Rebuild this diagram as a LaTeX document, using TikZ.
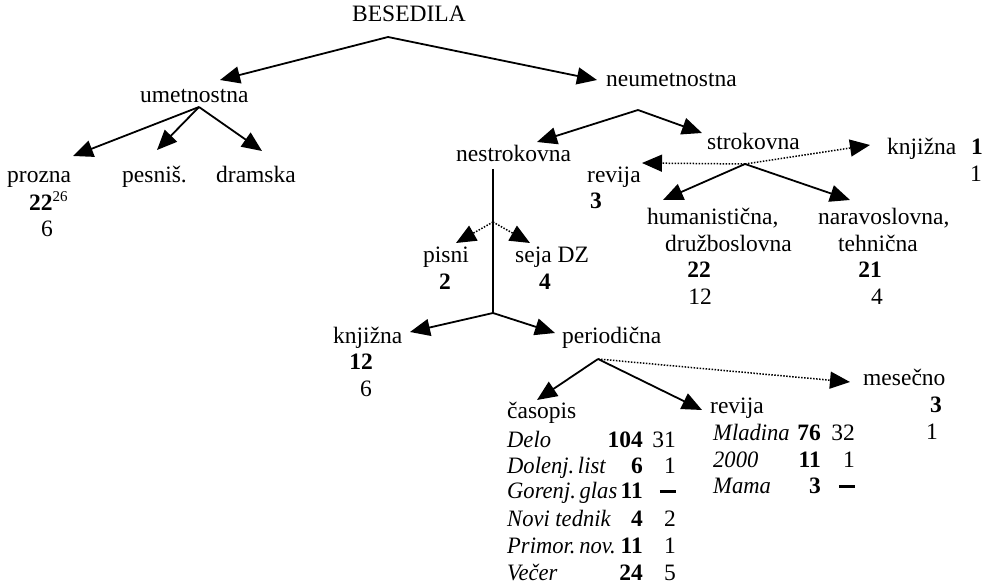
\documentclass[tikz,border=0pt]{standalone}
\usepackage{fontspec}
\setmainfont{Liberation Serif}
\usetikzlibrary{arrows.meta}
\newcommand{\nilmark}{\rule[5pt]{16pt}{2.8pt}}
\newcommand{\paper}[1]{\scalebox{0.96}[1]{\textit{#1}}}

\begin{document}
\begin{tikzpicture}[x=1pt,y=-1pt,font=\fontsize{23.5}{27}\selectfont,
    >={Triangle[length=20pt,width=17pt]},line join=miter,
    txt/.style={inner sep=0pt,anchor=base west},
    numc/.style={inner sep=0pt,anchor=base},
    nume/.style={inner sep=0pt,anchor=base east},
    tree/.style={line width=1.8pt,->},
    dots/.style={line width=1.5pt,dash pattern=on 1.5pt off 1.5pt,->}]
  \useasboundingbox (0,0) rectangle (988,585);

  % top level
  \node[txt] (besedila) at (352,22) {BESEDILA};
  \coordinate (jBes) at (388,37);
  \node[txt] (umet) at (140,103) {umetnostna};
  \node[txt] (neumet) at (606,87) {neumetnostna};
  \coordinate (tUmet) at (220,80);
  \coordinate (tNeumet) at (597,80);
  \draw[tree] (jBes) -- (tUmet);
  \draw[tree] (jBes) -- (tNeumet);

  % umetnostna
  \coordinate (jUmet) at (199,107);
  \node[txt] (prozna) at (7,183) {prozna};
  \node[txt] (pesnis) at (122,183) {pesniš.};
  \node[txt] (dramska) at (216,183) {dramska};
  \node[txt] (prozna-b) at (29,211) {\textbf{22}\raisebox{9pt}{\fontsize{15}{15}\selectfont 26}};
  \node[numc] (prozna-r) at (47,237) {6};
  \coordinate (tProzna) at (73,156);
  \coordinate (tPesnis) at (157,150);
  \coordinate (tDramska) at (262,151);
  \foreach \t in {tProzna,tPesnis,tDramska}
    \draw[tree] (jUmet) -- (\t);

  % neumetnostna
  \coordinate (jNeumet) at (638,110);
  \node[txt] (nestr) at (456,162) {nestrokovna};
  \node[txt] (strok) at (707,150) {strokovna};
  \coordinate (tNestr) at (537,142);
  \coordinate (tStrok) at (702,133);
  \draw[tree] (jNeumet) -- (tNestr);
  \draw[tree] (jNeumet) -- (tStrok);

  % strokovna
  \coordinate (jStrok) at (745,164);
  \node[txt] (revS) at (587,183) {revija};
  \node[txt] (revS-b) at (590,209) {\textbf{3}};
  \node[txt] (knjS) at (887,155) {knjižna};
  \node[nume] (knjS-b) at (983,155) {\textbf{1}};
  \node[nume] (knjS-r) at (982,182) {1};
  \coordinate (tRevS) at (642,163);
  \coordinate (tKnjS) at (870,145);
  \draw[dots] (jStrok) -- (tRevS);
  \draw[dots] (jStrok) -- (tKnjS);

  \node[txt] (hum) at (647,225) {humanistična,};
  \node[txt] (hum-2) at (665,252) {družboslovna};
  \node[numc] (hum-b) at (699,278) {\textbf{22}};
  \node[numc] (hum-r) at (700,305) {12};
  \node[txt] (nar) at (818,225) {naravoslovna,};
  \node[txt] (nar-2) at (838,252) {tehnična};
  \node[numc] (nar-b) at (870,278) {\textbf{21}};
  \node[numc] (nar-r) at (877,305) {4};
  \coordinate (tHum) at (663,200);
  \coordinate (tNar) at (850,200);
  \draw[tree] (jStrok) -- (tHum);
  \draw[tree] (jStrok) -- (tNar);

  % nestrokovna
  \coordinate (jNestr) at (493,169);
  \coordinate (jDot) at (493,222);
  \coordinate (jLow) at (493,313);
  \draw[line width=1.8pt] (jNestr) -- (jLow);
  \node[txt] (pisni) at (423,263) {pisni};
  \node[numc] (pisni-b) at (445,290) {\textbf{2}};
  \node[txt] (seja) at (515,263) {seja DZ};
  \node[numc] (seja-b) at (545,290) {\textbf{4}};
  \coordinate (tPisni) at (456,243);
  \coordinate (tSeja) at (530,243);
  \draw[dots] (jDot) -- (tPisni);
  \draw[dots] (jDot) -- (tSeja);

  \node[txt] (knjL) at (333,343) {knjižna};
  \node[numc] (knjL-b) at (361,370) {\textbf{12}};
  \node[numc] (knjL-r) at (366,396) {6};
  \node[txt] (per) at (562,343) {periodična};
  \coordinate (tKnjL) at (410,332);
  \coordinate (tPer) at (555,333);
  \draw[tree] (jLow) -- (tKnjL);
  \draw[tree] (jLow) -- (tPer);

  % periodicna
  \coordinate (jPer) at (598,359);
  \node[txt] (cas) at (507,418) {časopis};
  \node[txt] (revL) at (710,413) {revija};
  \node[txt] (mes) at (863,385) {mesečno};
  \node[nume] (mes-b) at (942,412) {\textbf{3}};
  \node[nume] (mes-r) at (938,439) {1};
  \coordinate (tCas) at (537,400);
  \coordinate (tRevL) at (702,410);
  \coordinate (tMes) at (850,382);
  \draw[tree] (jPer) -- (tCas);
  \draw[tree] (jPer) -- (tRevL);
  \draw[dots] (jPer) -- (tMes);

  \foreach \nm/\bo/\re/\yy [count=\i] in {Delo/104/31/447,Dolenj.\,list/6/1/473,
      Gorenj.\,glas/11/\nilmark/498,Novi tednik/4/2/526,Primor.\,nov./11/1/553,
      Večer/24/5/580}{
    \node[txt] (cas-\i) at (507,\yy) {\paper{\nm}};
    \node[nume] (cas-b\i) at (643,\yy) {\textbf{\bo}};
    \node[nume] (cas-r\i) at (676,\yy) {\re};
  }
  \foreach \nm/\bo/\re/\yy [count=\i] in {Mladina/76/32/440,2000/11/1/467,
      Mama/3/\nilmark/493}{
    \node[txt] (rev-\i) at (713,\yy) {\paper{\nm}};
    \node[nume] (rev-b\i) at (821,\yy) {\textbf{\bo}};
    \node[nume] (rev-r\i) at (855,\yy) {\re};
  }
\end{tikzpicture}
\end{document}
